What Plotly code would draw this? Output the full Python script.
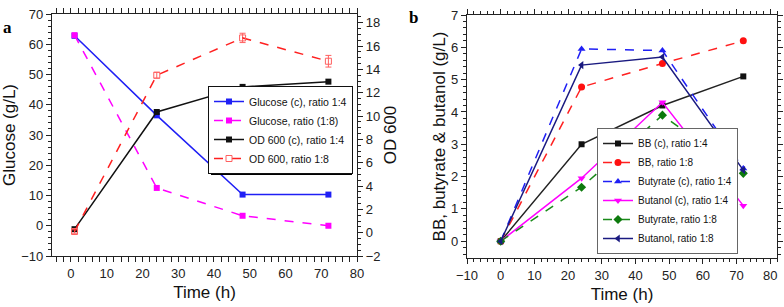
import plotly.graph_objects as go

# ---- Panel a data ----
time_a = [1, 24, 48, 72]
glucose_c_14 = [62.8, 36.5, 10.3, 10.3]
glucose_18 = [63.0, 12.5, 3.3, 0.0]
od_c_14 = [0.3, 10.35, 12.5, 12.95]
od_18 = [0.1, 13.5, 16.7, 14.7]
od_18_err = [0.15, 0.25, 0.4, 0.5]

# ---- Panel b data ----
time_b = [0, 24, 48, 72]
bb_c_14 = [0, 3.0, 4.2, 5.1]
bb_18 = [0, 4.77, 5.5, 6.2]
butyrate_c_14 = [0, 5.95, 5.9, 2.25]
butanol_c_14 = [0, 1.95, 4.3, 1.1]
butyrate_18 = [0, 1.67, 3.9, 2.1]
butanol_18 = [0, 5.45, 5.7, 2.2]

W, H = 784, 307
def px_x(p): return p / W
def px_y(p): return 1 - p / H

FONT = "Liberation Sans, Arial, sans-serif"
fig = go.Figure()

lw = 1.5
# Panel a traces
fig.add_trace(go.Scatter(x=time_a, y=glucose_c_14, name="Glucose (c), ratio 1:4",
    mode="lines+markers", line=dict(color="#1f1ff5", width=lw),
    marker=dict(symbol="square", size=6, color="#1f1ff5"), xaxis="x", yaxis="y", legend="legend"))
fig.add_trace(go.Scatter(x=time_a, y=glucose_18, name="Glucose, ratio (1:8)",
    mode="lines+markers", line=dict(color="#ff00ff", width=lw, dash="dash"),
    marker=dict(symbol="square", size=6, color="#ff00ff"), xaxis="x", yaxis="y", legend="legend"))
fig.add_trace(go.Scatter(x=time_a, y=od_c_14, name="OD 600 (c), ratio 1:4",
    mode="lines+markers", line=dict(color="#111111", width=lw),
    marker=dict(symbol="square", size=6, color="#111111"), xaxis="x", yaxis="y2", legend="legend"))
fig.add_trace(go.Scatter(x=time_a, y=od_18, name="OD 600, ratio 1:8",
    mode="lines+markers", line=dict(color="#ff2020", width=lw, dash="dash"),
    error_y=dict(type="data", array=od_18_err, color="#ff6060", thickness=1, width=3),
    marker=dict(symbol="square-open", size=6, color="#ff6060"), xaxis="x", yaxis="y2", legend="legend"))

# Panel b traces
fig.add_trace(go.Scatter(x=time_b, y=bb_c_14, name="BB (c), ratio 1:4",
    mode="lines+markers", line=dict(color="#222222", width=lw),
    marker=dict(symbol="square", size=6, color="#111111"), xaxis="x3", yaxis="y3", legend="legend2"))
fig.add_trace(go.Scatter(x=time_b, y=bb_18, name="BB, ratio 1:8",
    mode="lines+markers", line=dict(color="#ff2020", width=lw, dash="dash"),
    marker=dict(symbol="circle", size=7, color="#ff1010"), xaxis="x3", yaxis="y3", legend="legend2"))
fig.add_trace(go.Scatter(x=time_b, y=butyrate_c_14, name="Butyrate (c), ratio 1:4",
    mode="lines+markers", line=dict(color="#1f1ff5", width=lw, dash="dash"),
    marker=dict(symbol="triangle-up", size=7, color="#1f1ff5"), xaxis="x3", yaxis="y3", legend="legend2"))
fig.add_trace(go.Scatter(x=time_b, y=butanol_c_14, name="Butanol (c), ratio 1:4",
    mode="lines+markers", line=dict(color="#ff00ff", width=lw),
    marker=dict(symbol="triangle-down", size=7, color="#ff00ff"), xaxis="x3", yaxis="y3", legend="legend2"))
fig.add_trace(go.Scatter(x=time_b, y=butyrate_18, name="Butyrate, ratio 1:8",
    mode="lines+markers", line=dict(color="#1a8a1a", width=lw, dash="dash"),
    marker=dict(symbol="diamond", size=7, color="#0d7a0d"), xaxis="x3", yaxis="y3", legend="legend2"))
fig.add_trace(go.Scatter(x=time_b, y=butanol_18, name="Butanol, ratio 1:8",
    mode="lines+markers", line=dict(color="#1a1a80", width=lw),
    marker=dict(symbol="triangle-left", size=7, color="#1a1a80"), xaxis="x3", yaxis="y3", legend="legend2"))

axis_common = dict(showline=True, linecolor="#222222", linewidth=1.2, ticks="outside",
                   ticklen=5, tickwidth=1.2, tickcolor="#222222", showgrid=False, zeroline=False,
                   automargin=False,
                   tickfont=dict(family=FONT, size=13, color="#222222"),
                   minor=dict(ticks="outside", ticklen=3, tickcolor="#222222", tickwidth=1, showgrid=False))
title_font = dict(family=FONT, size=17, color="#111111")

# legend drop shadow (panel a legend)
LEG_L, LEG_T, LEG_R, LEG_B = 208, 86, 349, 172
shadow = dict(type="rect", xref="paper", yref="paper", layer="above",
              x0=px_x(LEG_L + 3), x1=px_x(LEG_R + 3), y0=px_y(LEG_B + 3), y1=px_y(LEG_T + 3),
              fillcolor="black", line=dict(width=0))

fig.update_layout(
    width=W, height=H, margin=dict(l=0, r=0, t=0, b=0, autoexpand=False),
    paper_bgcolor="white", plot_bgcolor="white",
    xaxis=dict(domain=[px_x(52), px_x(357)], range=[-5.3, 80], anchor="y",
               tick0=0, dtick=10, mirror="allticks",
               title=dict(text="Time (h)", font=title_font, standoff=6),
               **axis_common),
    yaxis=dict(domain=[px_y(256), px_y(14)], range=[-10, 70], anchor="x",
               tick0=0, dtick=10,
               title=dict(text="Glucose (g/L)", font=title_font, standoff=1),
               **axis_common),
    yaxis2=dict(overlaying="y", side="right", anchor="x", range=[-2, 18.75],
                tick0=0, dtick=2,
                title=dict(text="OD 600", font=title_font, standoff=4),
                **axis_common),
    xaxis3=dict(domain=[px_x(467), px_x(777)], range=[-10, 82], anchor="y3",
                tick0=0, dtick=10, mirror="allticks",
                title=dict(text="Time (h)", font=title_font, standoff=6),
                **axis_common),
    yaxis3=dict(domain=[px_y(258), px_y(15)], range=[-0.52, 7], anchor="x3",
                tick0=0, dtick=1, mirror="allticks",
                title=dict(text="BB, butyrate & butanol (g/L)", font=title_font, standoff=1),
                **axis_common),
    legend=dict(x=px_x(LEG_L), y=px_y(LEG_T), xanchor="left", yanchor="top",
                bgcolor="white", bordercolor="#111111", borderwidth=1,
                font=dict(family=FONT, size=10.5, color="#111111"), itemwidth=30,
                tracegroupgap=0),
    legend2=dict(x=px_x(597), y=px_y(254), xanchor="left", yanchor="bottom",
                 bgcolor="white", bordercolor="#666666", borderwidth=1,
                 font=dict(family=FONT, size=10, color="#111111"), itemwidth=30,
                 tracegroupgap=0),
    shapes=[shadow],
    annotations=[
        dict(text="<b>a</b>", x=px_x(8), y=px_y(27), xref="paper", yref="paper",
             xanchor="center", yanchor="middle", showarrow=False,
             font=dict(family="Liberation Serif, serif", size=17, color="black")),
        dict(text="<b>b</b>", x=px_x(413), y=px_y(17), xref="paper", yref="paper",
             xanchor="center", yanchor="middle", showarrow=False,
             font=dict(family="Liberation Serif, serif", size=17, color="black")),
    ],
)

fig.write_html("out.html", config={"displayModeBar": False},
               post_script="document.body.style.margin='0';document.body.style.padding='0';document.body.style.overflow='hidden';")
